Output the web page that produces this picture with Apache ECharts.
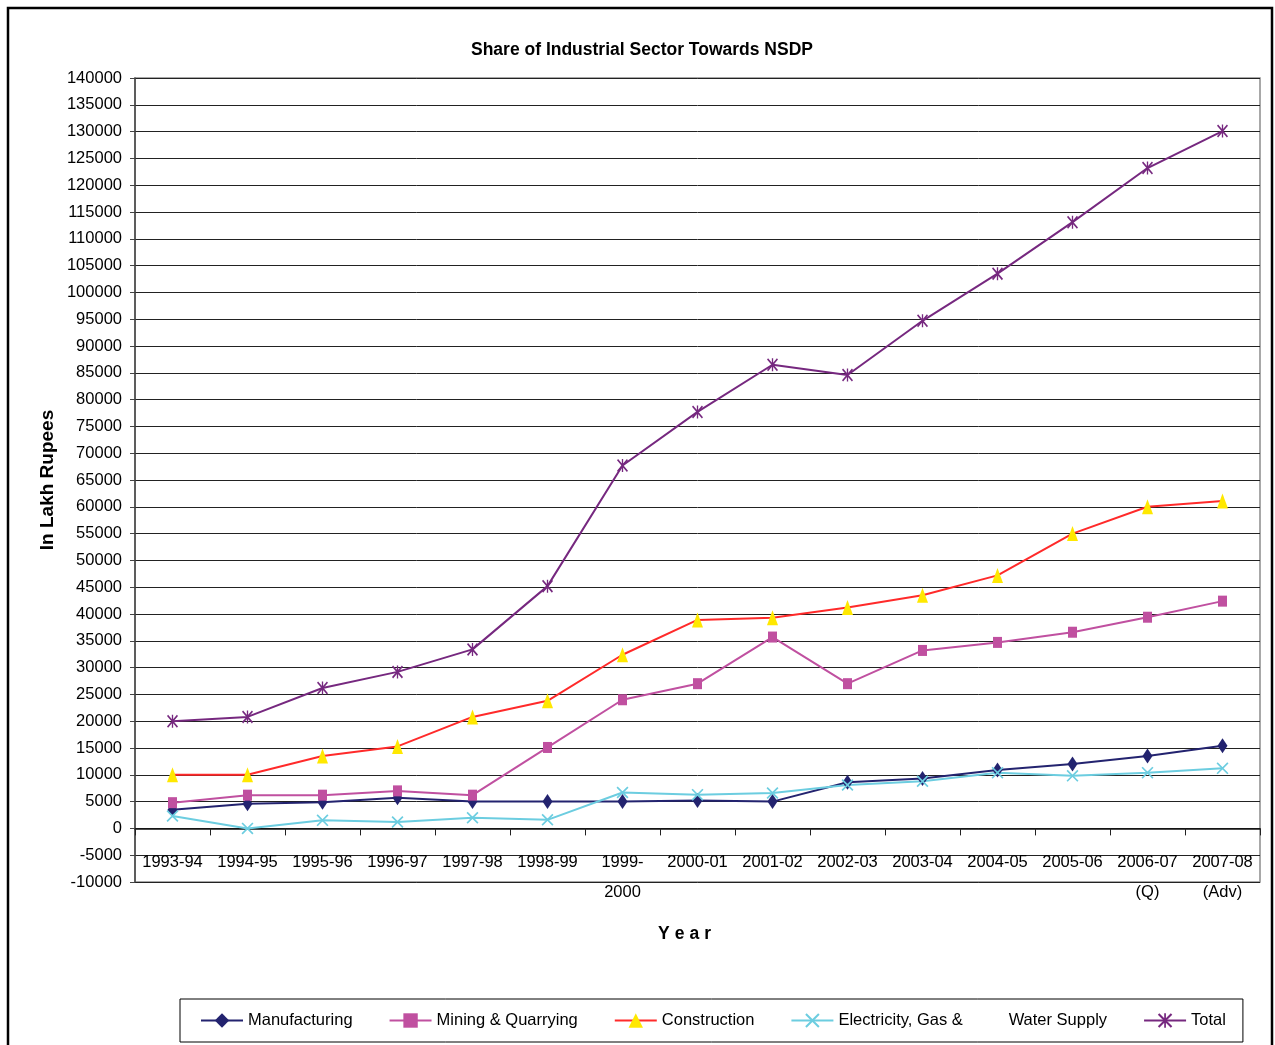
<!DOCTYPE html>
<html>
<head>
<meta charset="utf-8">
<title>Share of Industrial Sector Towards NSDP</title>
<script src="https://cdn.jsdelivr.net/npm/echarts@6/dist/echarts.min.js"></script>
<style>
  html, body { margin: 0; padding: 0; background: #fff; }
  #chart { width: 1275px; height: 1045px; }
</style>
</head>
<body>
<div id="chart"></div>
<script>
// Years (x-axis categories)
const years = ['1993-94', '1994-95', '1995-96', '1996-97', '1997-98', '1998-99', '1999-\n2000',
  '2000-01', '2001-02', '2002-03', '2003-04', '2004-05', '2005-06', '2006-07\n(Q)', '2007-08\n(Adv)'];

// Sector contributions, in lakh rupees
const manufacturing = [3500, 4600, 4900, 5700, 5000, 5000, 5000, 5200, 5000, 8600, 9300, 10900, 12000, 13500, 15400];
const mining = [4800, 6200, 6200, 7000, 6200, 15100, 24000, 27000, 35700, 27000, 33200, 34700, 36600, 39400, 42400];
const construction = [10000, 10000, 13500, 15300, 20800, 23800, 32400, 38900, 39300, 41200, 43500, 47200, 55000, 60000, 61100];
const electricity = [2300, 0, 1500, 1200, 2000, 1600, 6700, 6300, 6600, 8100, 8800, 10400, 9800, 10400, 11200];
const total = [20000, 20800, 26200, 29200, 33400, 45200, 67700, 77700, 86500, 84600, 94700, 103500, 113100, 123200, 130100];

// Series names as shown in the legend
const seriesNames = ['Manufacturing', 'Mining & Quarrying', 'Construction',
  'Electricity, Gas &          Water Supply', 'Total'];

const SANS = '"Liberation Sans", Arial, sans-serif';

// Thin-stroke marker shapes built as filled outlines
const crossPath = 'path://M0,1 L1,0 L10,9 L9,10 Z M9,0 L10,1 L1,10 L0,9 Z';
const starPath = 'path://M0,1 L1,0 L10,9 L9,10 Z M9,0 L10,1 L1,10 L0,9 Z M4.4,0 L5.6,0 L5.6,10 L4.4,10 Z';

function lineSeries(name, data, lineColor, markColor, symbol, size) {
  return {
    name: name,
    type: 'line',
    data: data,
    symbol: symbol,
    symbolSize: size,
    showSymbol: true,
    lineStyle: { color: lineColor, width: 2 },
    itemStyle: { color: markColor },
    emphasis: { disabled: true }
  };
}

const chart = echarts.init(document.getElementById('chart'), null, { renderer: 'canvas' });

chart.setOption({
  animation: false,
  backgroundColor: '#fff',
  title: {
    text: 'Share of Industrial Sector Towards NSDP',
    left: 471,
    top: 41,
    padding: 0,
    textStyle: { fontFamily: SANS, fontSize: 17.5, fontWeight: 'bold', color: '#000' }
  },
  grid: {
    left: 135, right: 15, top: 78, bottom: 163,
    show: true,
    borderColor: '#8c8c8c',
    borderWidth: 1.5,
    backgroundColor: 'transparent'
  },
  legend: {
    left: 180,
    top: 999,
    padding: [13, 17, 13, 20],
    borderColor: '#000',
    borderWidth: 1,
    itemGap: 36,
    itemWidth: 42,
    itemHeight: 18,
    data: seriesNames,
    textStyle: { fontFamily: SANS, fontSize: 16.5, color: '#000' }
  },
  xAxis: {
    type: 'category',
    data: years,
    boundaryGap: true,
    axisLine: { onZero: true, lineStyle: { color: '#111', width: 1.5 } },
    axisTick: { show: true, interval: 0, length: 7, lineStyle: { color: '#222' } },
    axisLabel: {
      interval: 0,
      margin: -35,
      fontFamily: SANS,
      fontSize: 16.5,
      lineHeight: 30,
      color: '#000'
    },
    splitLine: { show: false },
    name: '{s|Y}{s|e}{s|a}{s|r}',
    nameLocation: 'middle',
    nameGap: 43,
    nameMoveOverlap: false,
    nameTextStyle: {
      padding: [0, 26, 0, 0],
      rich: {
        s: { fontFamily: SANS, fontSize: 17.5, fontWeight: 'bold', color: '#000', padding: [0, 2.5] }
      }
    }
  },
  yAxis: {
    type: 'value',
    min: -10000,
    max: 140000,
    interval: 5000,
    axisLine: { show: true, lineStyle: { color: '#444', width: 1.5 } },
    axisTick: { show: true, length: 5, lineStyle: { color: '#444' } },
    axisLabel: {
      margin: 13,
      fontFamily: SANS,
      fontSize: 16.5,
      color: '#000',
      formatter: function (v) { return String(v); }
    },
    splitLine: { show: true, lineStyle: { color: '#222', width: 1 } },
    name: 'In Lakh Rupees',
    nameLocation: 'middle',
    nameGap: 78,
    nameMoveOverlap: false,
    nameTextStyle: { fontFamily: SANS, fontSize: 19, fontWeight: 'bold', color: '#000' }
  },
  series: [
    lineSeries(seriesNames[0], manufacturing, '#23236f', '#23236f', 'diamond', [10, 15]),
    lineSeries(seriesNames[1], mining, '#c050a0', '#c050a0', 'rect', [9, 11]),
    lineSeries(seriesNames[2], construction, '#ff2a2a', '#ffe800', 'triangle', [11, 15]),
    lineSeries(seriesNames[3], electricity, '#6ccde0', '#6ccde0', crossPath, [12, 12]),
    lineSeries(seriesNames[4], total, '#76287f', '#76287f', starPath, [11, 13])
  ],
  graphic: [{
    type: 'rect',
    silent: true,
    z: 100,
    shape: { x: 8, y: 8, width: 1264, height: 1060 },
    style: { fill: 'none', stroke: '#000', lineWidth: 2.5 }
  }]
});
</script>
</body>
</html>
